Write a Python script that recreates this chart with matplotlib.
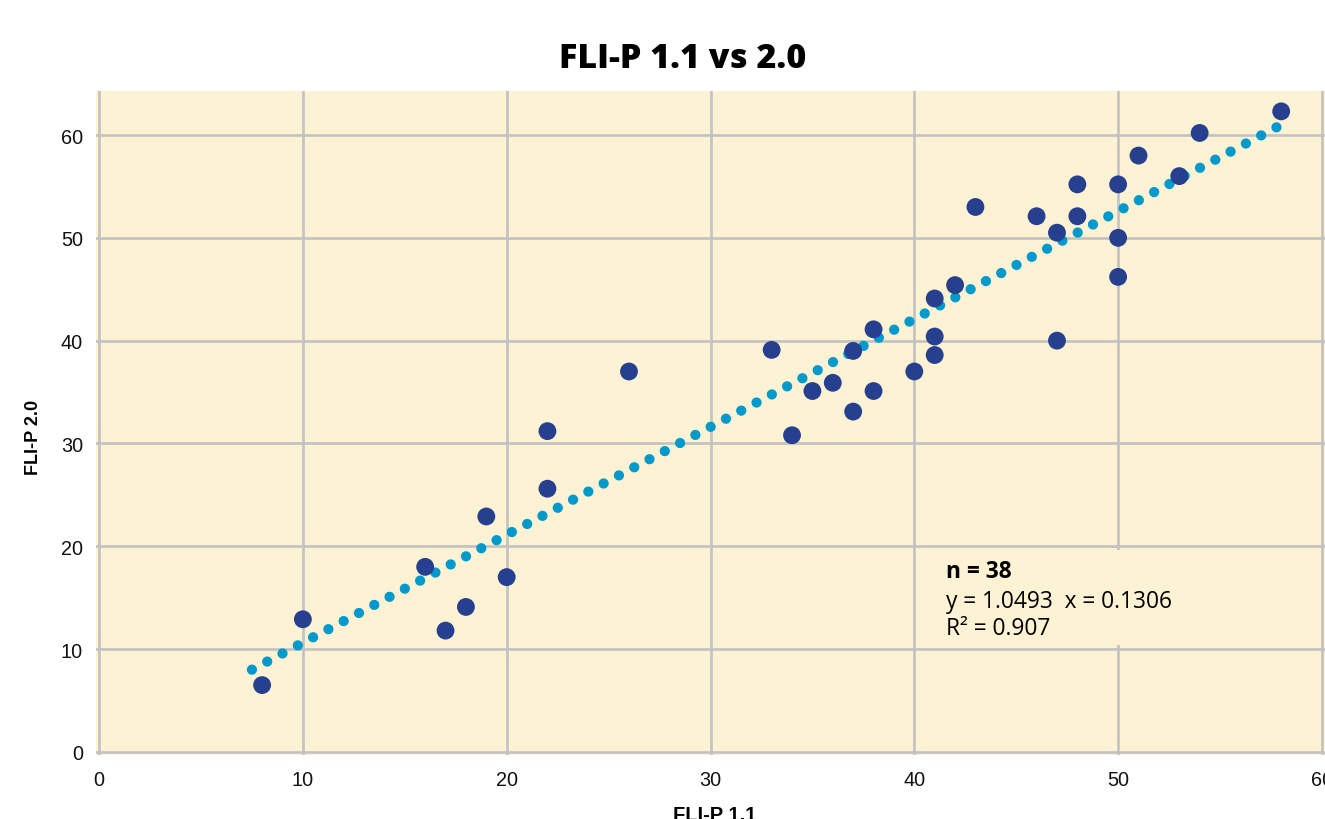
import matplotlib
matplotlib.use("Agg")
import matplotlib.pyplot as plt
from matplotlib.patches import Rectangle
import numpy as np

# ---- data ----
fli_p_11 = [8, 10, 16, 17, 18, 19, 20, 22, 22, 26, 33, 34, 35, 36, 37, 37, 38, 38,
            40, 41, 41, 41, 42, 43, 46, 47, 47, 48, 48, 50, 50, 50, 51, 53, 54, 58]
fli_p_20 = [6.5, 12.9, 18.0, 11.8, 14.1, 22.9, 17.0, 25.6, 31.2, 37.0, 39.1, 30.8, 35.1, 35.9,
            33.1, 39.0, 35.1, 41.1, 37.0, 38.6, 40.4, 44.1, 45.4, 53.0, 52.1, 50.5, 40.0, 55.2,
            52.1, 55.2, 50.0, 46.2, 58.0, 56.0, 60.2, 62.3]
slope = 1.0493
intercept = 0.1306
trend_range = [7.5, 58]
xticks = [0, 10, 20, 30, 40, 50, 60]
yticks = [0, 10, 20, 30, 40, 50, 60]
n_label = "n = 38"
eq_label = "y = 1.0493  x = 0.1306"
r2_label = "R² = 0.907"

BG = "#FDF2D4"
GRID = "#C2C2C2"
POINT = "#263F8E"
TREND = "#0099CC"

W, H = 1325, 820
fig = plt.figure(figsize=(W / 100, H / 100), dpi=100)
ax = fig.add_axes([96 / W, (H - 756) / H, (W - 96) / W, (756 - 92) / H])
ax.set_facecolor(BG)
ax.set_xlim(-0.15, 60.15)
ax.set_ylim(-0.3, 64.28)
for s in ax.spines.values():
    s.set_visible(False)
ax.set_xticks(xticks)
ax.set_yticks(yticks)
ax.set_axisbelow(True)
ax.grid(True, color=GRID, linewidth=1.9)
ax.tick_params(length=0, labelsize=14.3)
ax.tick_params(axis="y", pad=9.4)
ax.tick_params(axis="x", pad=10.5)
for lab in ax.get_xticklabels() + ax.get_yticklabels():
    lab.set_fontfamily("Liberation Sans")
    lab.set_color("#111111")

# trend line (dotted with round dots)
tx = np.array(trend_range, dtype=float)
ty = slope * tx + intercept
lw = 7.4
ax.plot(tx, ty, color=TREND, linewidth=lw, linestyle=(0, (0.001, 12.45 / lw)),
        dash_capstyle="round", solid_capstyle="round", zorder=3)

# data points
ax.scatter(fli_p_11, fli_p_20, s=165, color=POINT, edgecolors="none", zorder=4)

# annotation box (covers grid line behind)
ax.add_patch(Rectangle((40.6, 10.35), 18.9, 9.3, facecolor=BG, edgecolor="none", zorder=1))
tx0 = 41.55
ax.text(tx0, 17.02, n_label, fontsize=16.4, fontweight="bold", family="Open Sans",
        va="baseline", ha="left", zorder=5)
ax.text(tx0, 14.1, eq_label, fontsize=16.4, family="Open Sans",
        va="baseline", ha="left", zorder=5)
ax.text(tx0, 11.48, r2_label, fontsize=16.4, family="Open Sans",
        va="baseline", ha="left", zorder=5)

fig.text(683 / W, 1 - 59 / H, "FLI-P 1.1 vs 2.0", fontsize=24.5, fontweight="heavy",
         family="Open Sans", ha="center", va="center")
fig.text(33 / W, 1 - 437 / H, "FLI-P 2.0", fontsize=13, fontweight="bold",
         family="Liberation Sans", rotation=90, ha="center", va="center")
fig.text(715 / W, 1 - 806 / H, "FLI-P 1.1", fontsize=14.5, fontweight="bold",
         family="Liberation Sans", ha="center", va="top")

fig.savefig("out.png", dpi=100, facecolor="white")
